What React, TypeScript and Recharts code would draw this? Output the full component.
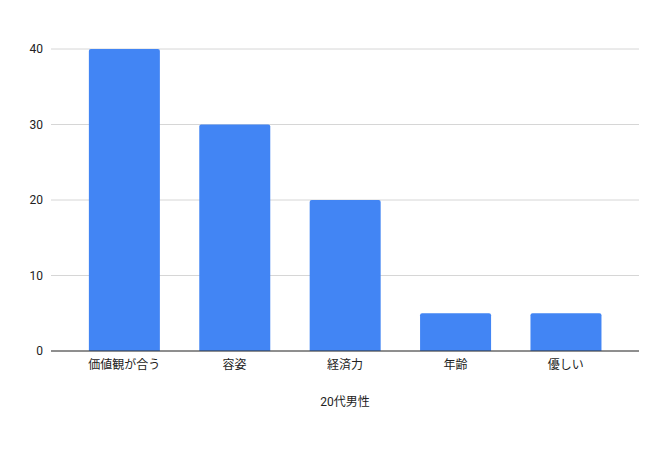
import React from 'react';
import { BarChart, Bar, XAxis, YAxis, CartesianGrid, Label } from 'recharts';

const categories = ['価値観が合う', '容姿', '経済力', '年齢', '優しい'];
const values = [40, 30, 20, 5, 5];
const yTicks = [0, 10, 20, 30, 40];
const axisTitle = '20代男性';

const data = categories.map((name, i) => ({ name, value: values[i] }));

const font = "Roboto, 'Noto Sans CJK JP', sans-serif";

export default function App() {
  return (
    <div style={{ position: 'absolute', left: 0, top: 0, width: 660, height: 450, background: '#fff', fontFamily: font }}>
      <BarChart
        width={660}
        height={450}
        data={data}
        margin={{ top: 49, right: 21, left: 0, bottom: 69 }}
        barCategoryGap="18%"
      >
        <CartesianGrid vertical={false} stroke="#d6d6d6" />
        <XAxis
          dataKey="name"
          padding={{ left: 18, right: 18 }}
          axisLine={{ stroke: '#333333' }}
          tickLine={false}
          tickSize={0}
          tickMargin={9}
          tick={{ fill: '#222222', fontSize: 12, fontFamily: font }}
          height={30}
        >
          <Label value={axisTitle} position="bottom" offset={16} style={{ fill: '#222222', fontSize: 12, fontFamily: font }} />
        </XAxis>
        <YAxis
          width={51}
          domain={[0, 40]}
          ticks={yTicks}
          axisLine={false}
          tickLine={false}
          tickSize={0}
          tickMargin={8}
          tick={{ fill: '#222222', fontSize: 12, fontFamily: font }}
        />
        <Bar dataKey="value" fill="#4285F4" radius={[2, 2, 0, 0]} isAnimationActive={false} />
      </BarChart>
    </div>
  );
}
